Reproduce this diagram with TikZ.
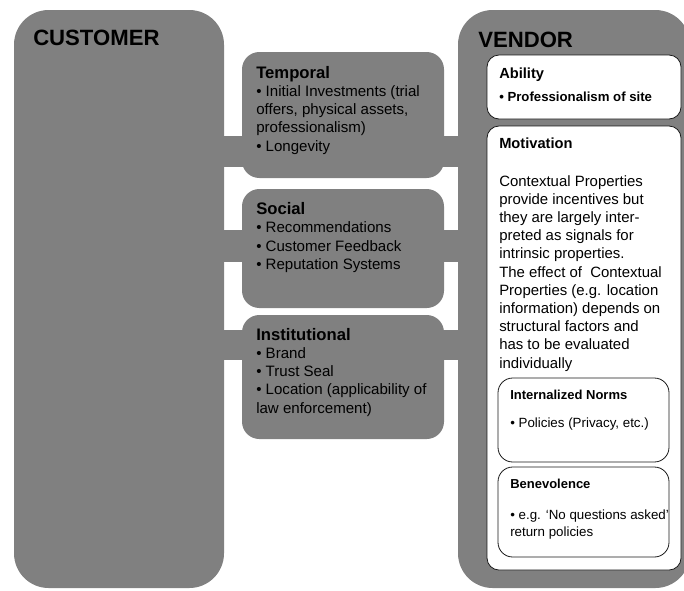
\documentclass[tikz,border=0pt]{standalone}
\usepackage{fontspec}
\setmainfont{Liberation Sans}
\definecolor{boxgray}{RGB}{128,128,128}
\tikzset{
  bigbox/.style={fill=boxgray, rounded corners=26pt},
  midbox/.style={fill=boxgray, rounded corners=13pt},
  barfill/.style={fill=boxgray},
  inbox/.style={fill=white, draw=black!90, line width=0.6pt, rounded corners=9pt},
  smallbox/.style={fill=white, draw=black!90, line width=0.6pt, rounded corners=11pt},
  bighead/.style={anchor=base west, inner sep=0pt, font=\fontsize{16.6}{20}\selectfont\bfseries},
  midhead/.style={anchor=base west, inner sep=0pt, font=\fontsize{12.5}{15}\selectfont\bfseries},
  midbody/.style={anchor=base west, inner sep=0pt, align=left, font=\fontsize{11.3}{13.7}\selectfont},
  vhead/.style={anchor=base west, inner sep=0pt, font=\fontsize{11}{13}\selectfont\bfseries},
  vbody/.style={anchor=base west, inner sep=0pt, align=left, font=\fontsize{11.2}{13.65}\selectfont},
  shead/.style={anchor=base west, inner sep=0pt, font=\fontsize{9.75}{12}\selectfont\bfseries},
  sbody/.style={anchor=base west, inner sep=0pt, align=left, font=\fontsize{10}{12.6}\selectfont},
}
\begin{document}
\begin{tikzpicture}[x=0.75pt,y=-0.75pt]
\useasboundingbox (0,0) rectangle (684,590);
\clip (0,0) rectangle (684,590);
% connecting bars
\path[barfill] (200,136) rectangle (480,167);
\path[barfill] (200,230) rectangle (480,262);
\path[barfill] (200,330) rectangle (480,360);
% customer and vendor
\path[bigbox] (14,10) rectangle (224,588);
\path[bigbox] (458,10) rectangle (690,588);
% middle boxes
\path[midbox] (242,52) rectangle (444,178);
\path[midbox] (242,189) rectangle (444,308);
\path[midbox] (242,315) rectangle (444,439);
% vendor inner boxes
\path[inbox] (487,55) rectangle (681,119);
\path[inbox] (487,126) rectangle (681,570);
\path[smallbox] (498,378) rectangle (669,462);
\path[smallbox] (498,467) rectangle (669,557);
% texts (multi-line nodes are placed at the baseline of their last line)
\node[bighead] (customer) at (33,45) {CUSTOMER};
\node[bighead] (vendor) at (478,47) {VENDOR};
\node[midhead] (temporal) at (256,78) {Temporal};
\node[midbody] (temporalbody) at (256,151) {• Initial Investments (trial\\offers, physical assets,\\professionalism)\\• Longevity};
\node[midhead] (social) at (256,214) {Social};
\node[midbody] (socialbody) at (256,269.5) {• Recommendations\\• Customer Feedback\\• Reputation Systems};
\node[midhead] (institutional) at (256,340) {Institutional};
\node[midbody] (institutionalbody) at (256,413) {• Brand\\• Trust Seal\\• Location (applicability of\\law enforcement)};
\node[vhead] (ability) at (499,78) {Ability};
\node[anchor=base west, inner sep=0pt, font=\fontsize{9.9}{12}\selectfont\bfseries] (abilitybody) at (499,101) {• Professionalism of site};
\node[vhead] (motivation) at (499,148) {Motivation};
\node[vbody] (motivationbody) at (499,368) {Contextual Properties\\provide incentives but\\they are largely inter-\\preted as signals for\\intrinsic properties.\\The effect of\ \ Contextual\\Properties (e.g. location\\information) depends on\\structural factors and\\has to be evaluated\\individually};
\node[shead] (norms) at (510,399) {Internalized Norms};
\node[sbody] (normsbody) at (510,427) {• Policies (Privacy, etc.)};
\node[shead] (benevolence) at (510,488) {Benevolence};
\node[sbody] (benevolencebody) at (510,536) {• e.g. ‘No questions asked’\\return policies};
\end{tikzpicture}
\end{document}
